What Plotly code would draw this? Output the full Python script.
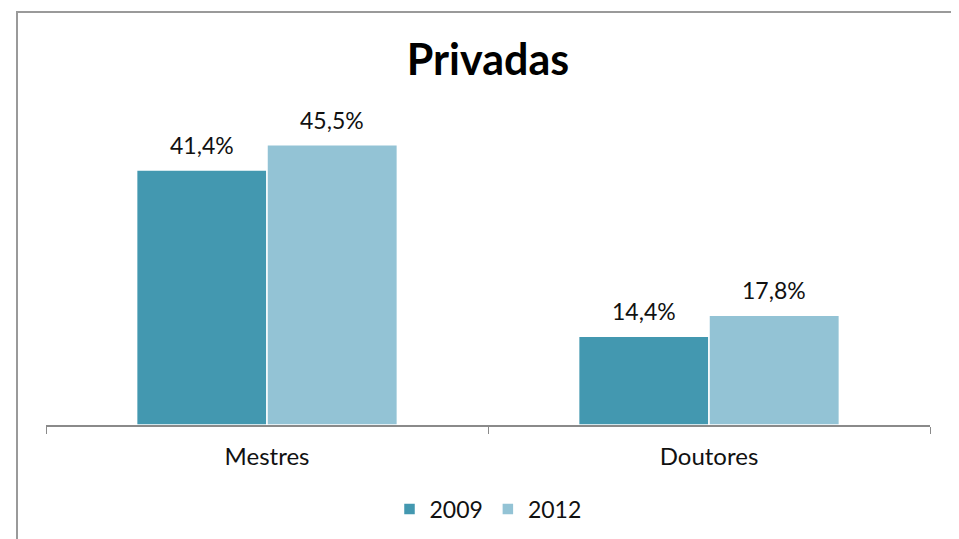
import plotly.graph_objects as go

categories = ["Mestres", "Doutores"]
years = ["2009", "2012"]
values_2009 = [41.4, 14.4]
values_2012 = [45.5, 17.8]
colors = ["#4398B0", "#93C3D5"]

fig = go.Figure()
for name, vals, col in zip(years, [values_2009, values_2012], colors):
    fig.add_trace(go.Bar(
        x=categories,
        y=vals,
        name=name,
        marker_color=col,
        marker_line_color="white",
        marker_line_width=1.5,
    ))

# rótulos de dados um pouco acima das barras, como no original
for shift, vals in zip([-65, 65], [values_2009, values_2012]):
    for cat, v in zip(categories, vals):
        fig.add_annotation(
            x=cat, y=v, xref="x", yref="y",
            text=f"{v:.1f}%".replace(".", ","),
            showarrow=False, xshift=shift, yshift=25,
            font=dict(size=23, color="#111111")
        )

# moldura do gráfico
fig.add_shape(
    type="rect", xref="paper", yref="paper",
    x0=-0.0328, x1=1.0305, y0=-0.6, y1=1.341,
    line=dict(color="#9a9a9a", width=2),
    layer="below"
)

# a página tem 8px de margem no body, por isso as margens já descontam isso
fig.update_layout(
    title=dict(text="<b>Privadas</b>", x=0.5, xref="paper", xanchor="center",
               y=1 - 52 / 539, yref="container", yanchor="middle",
               font=dict(size=43, color="#000000")),
    width=959,
    height=539,
    margin=dict(l=38, r=37, t=109, b=122),
    paper_bgcolor="white",
    plot_bgcolor="white",
    font=dict(family="Lato, 'Open Sans', sans-serif", color="#111111"),
    barmode="group",
    bargap=0.41,
    bargroupgap=0.0,
    showlegend=True,
    legend=dict(orientation="h", x=0.5, xanchor="center", y=-0.273, yanchor="middle",
                font=dict(size=23), itemwidth=30, traceorder="normal"),
    xaxis=dict(
        showline=True, linecolor="#8a8a8a", linewidth=1.5,
        ticks="outside", tickson="boundaries", ticklen=7, tickcolor="#8a8a8a",
        tickfont=dict(size=24, color="#111111"), ticklabelstandoff=9,
        showgrid=False
    ),
    yaxis=dict(range=[0, 50], visible=False, showgrid=False)
)

fig.write_html("out.html")
